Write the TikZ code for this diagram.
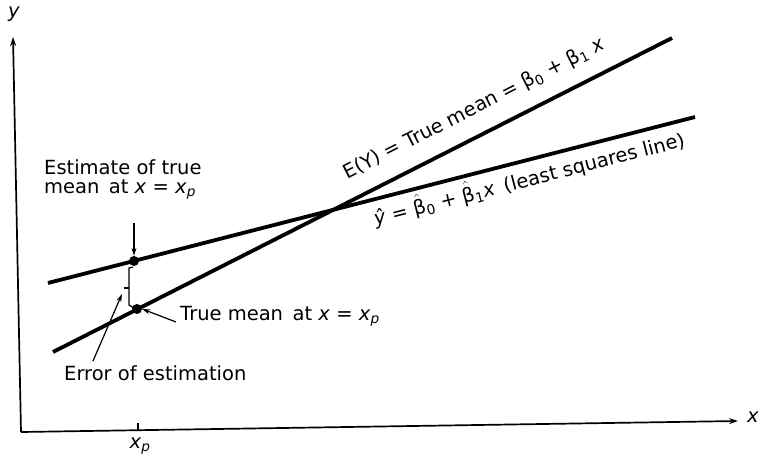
\documentclass[tikz,border=0pt]{standalone}
\usepackage{fontspec}
\usepackage{amsmath}
\setmainfont{DejaVu Sans}
\usetikzlibrary{arrows.meta}
\begin{document}
\begin{tikzpicture}[x=1pt,y=-1pt,
  lbl/.style={font=\fontsize{19.5}{19}\selectfont, inner sep=0pt},
  axis/.style={line width=1.7pt, -{Stealth[length=9pt,width=6pt]}},
  reg/.style={line width=3.8pt},
  ptr/.style={line width=1.2pt, -{Stealth[length=8pt,width=5pt]}},
  thin/.style={line width=1.2pt},
  dot/.style={circle, fill=black, inner sep=0pt, minimum size=10pt}]
\useasboundingbox (0,0) rectangle (760,461);
% axes
\coordinate (O) at (21,432);
\coordinate (ytop) at (13,37);
\coordinate (xend) at (738,421);
\draw[axis] (O) -- (ytop);
\draw[axis] (O) -- (xend);
\node[lbl] (ylab) at (14,14) {\textit{y}};
\node[lbl] (xlab) at (753,417) {\textit{x}};
\coordinate (tk1) at (138,430);
\coordinate (tk2) at (138,423);
\draw[thin] (tk1) -- (tk2);
\node[lbl] (xp) at (140,446) {\textit{x}\textsubscript{\textit{p}}};
% regression lines
\coordinate (tA) at (53,352);
\coordinate (tB) at (672,38);
\coordinate (lA) at (48,283);
\coordinate (lB) at (695,117);
\draw[reg] (tA) -- (tB);
\draw[reg] (lA) -- (lB);
\node[dot] (est) at (134,261) {};
\node[dot] (tru) at (137,309) {};
% error bracket
\coordinate (b1) at (133,267);
\coordinate (b2) at (129,268);
\coordinate (b3) at (129,305);
\coordinate (b4) at (134,308);
\coordinate (bm1) at (129,288);
\coordinate (bm2) at (124,288);
\draw[thin] (b1) -- (b2) -- (b3) -- (b4);
\draw[thin] (bm1) -- (bm2);
% labels
\node[lbl, align=left, anchor=base west] (estlab) at (44,193) {Estimate of true\\mean \,at \textit{x} = \textit{x}\textsubscript{\textit{p}}};
\coordinate (estarr) at (134,223);
\draw[ptr] (estarr) -- (est.north);
\node[lbl, anchor=base west] (trulab) at (180,320) {True mean \,at \textit{x} = \textit{x}\textsubscript{\textit{p}}};
\coordinate (truarr) at (176,322);
\draw[ptr] (truarr) -- (tru.east);
\node[lbl, anchor=base west] (errlab) at (64,380) {Error of estimation};
\coordinate (errtail) at (93,361);
\coordinate (errhead) at (122,294);
\draw[ptr] (errtail) -- (errhead);
\node[lbl, rotate=26.9] (tlab) at (474,109) {E(Y) = True mean = β\textsubscript{0} + β\textsubscript{1} \textit{x}};
\node[lbl, rotate=14.4] (llab) at (529,178) {\textit{ŷ} = $\hat{\text{β}}$\textsubscript{0} + $\hat{\text{β}}$\textsubscript{1}\textit{x} \,(least squares line)};
\end{tikzpicture}
\end{document}
